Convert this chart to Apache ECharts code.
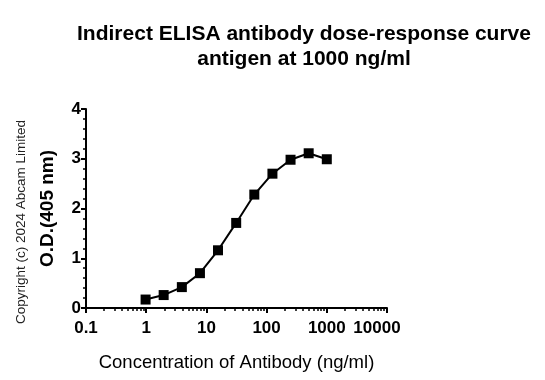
<!DOCTYPE html>
<html>
<head>
<meta charset="utf-8">
<script src="https://cdn.jsdelivr.net/npm/echarts@6/dist/echarts.min.js"></script>
<style>html,body{margin:0;padding:0;background:#fff}#c{width:545px;height:380px}</style>
</head>
<body>
<div id="c"></div>
<script>
const concentrations = [0.977, 1.95, 3.91, 7.81, 15.6, 31.25, 62.5, 125, 250, 500, 1000];
const odValues = [0.17, 0.26, 0.42, 0.70, 1.16, 1.71, 2.28, 2.70, 2.98, 3.11, 2.99];
const xMinorTicks = [0.2,0.3,0.4,0.5,0.6,0.7,0.8,0.9,2,3,4,5,6,7,8,9,20,30,40,50,60,70,80,90,200,300,400,500,600,700,800,900,2000,3000,4000,5000,6000,7000,8000,9000];
const titleText = 'Indirect ELISA antibody dose-response curve\nantigen at 1000 ng/ml';
const xTitle = 'Concentration of Antibody (ng/ml)';
const yTitle = 'O.D.(405 nm)';
const copyrightText = 'Copyright (c) 2024 Abcam Limited';

const FONT = '"Liberation Sans", Arial, sans-serif';
const chart = echarts.init(document.getElementById('c'), null, {renderer: 'canvas'});
const grid = {left: 86, right: 158, top: 109, bottom: 72};
chart.setOption({
  animation: false,
  backgroundColor: '#ffffff',
  title: {
    text: titleText,
    left: 299, top: 16, textAlign: 'center',
    textStyle: {fontFamily: FONT, fontSize: 21, fontWeight: 'bold', color: '#000', lineHeight: 25.5}
  },
  grid: grid,
  xAxis: [{
    type: 'log', logBase: 10, min: 0.1, max: 10000,
    name: xTitle, nameLocation: 'middle', nameGap: 45,
    nameTextStyle: {fontFamily: FONT, fontSize: 18.5, color: '#000'},
    axisLine: {show: true, lineStyle: {color: '#000', width: 2}},
    axisTick: {show: true, length: 5, lineStyle: {color: '#000', width: 2}},
    axisLabel: {fontFamily: FONT, fontSize: 17, fontWeight: 'bold', color: '#000', margin: 12,
      formatter: function (v) { return v >= 10000 ? '{last|' + v + '}' : String(v); },
      rich: {last: {fontFamily: FONT, fontSize: 17, fontWeight: 'bold', color: '#000', padding: [0, 20, 0, 0]}}},
    splitLine: {show: false}
  }, {
    type: 'log', logBase: 10, min: 0.1, max: 10000, position: 'bottom',
    axisLine: {show: false},
    axisTick: {show: true, length: 3, customValues: xMinorTicks, lineStyle: {color: '#000', width: 1.5}},
    axisLabel: {show: false},
    splitLine: {show: false}
  }],
  yAxis: {
    type: 'value', min: 0, max: 4, interval: 1,
    name: yTitle, nameLocation: 'middle', nameGap: 29, nameRotate: 90,
    nameTextStyle: {fontFamily: FONT, fontSize: 19, fontWeight: 'bold', color: '#000'},
    axisLine: {show: true, lineStyle: {color: '#000', width: 2}},
    axisTick: {show: true, length: 5, lineStyle: {color: '#000', width: 2}},
    minorTick: {show: true, splitNumber: 5, length: 3, lineStyle: {color: '#000', width: 1.5}},
    axisLabel: {fontFamily: FONT, fontSize: 17, fontWeight: 'bold', color: '#000', margin: 5},
    splitLine: {show: false}
  },
  graphic: [{
    type: 'text', x: 21, y: 222, rotation: Math.PI / 2,
    style: {text: copyrightText, font: '13.5px "Liberation Sans", Arial, sans-serif', fill: '#222',
      align: 'center', verticalAlign: 'middle'}
  }],
  series: [{
    type: 'line',
    data: concentrations.map(function (c, i) { return [c, odValues[i]]; }),
    symbol: 'rect', symbolSize: 10,
    itemStyle: {color: '#000'},
    lineStyle: {color: '#000', width: 2}
  }]
});
</script>
</body>
</html>
